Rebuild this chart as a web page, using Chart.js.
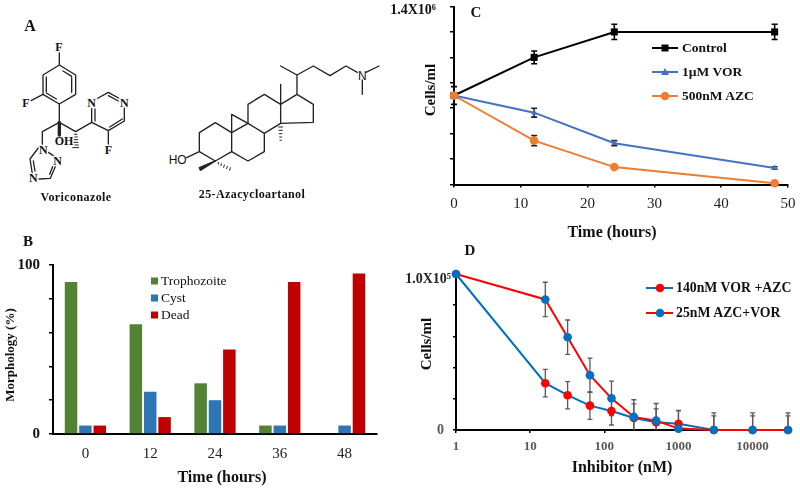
<!DOCTYPE html>
<html>
<head>
<meta charset="utf-8">
<style>
  html, body { margin: 0; padding: 0; background: #fff; }
  #page { position: relative; width: 800px; height: 489px; overflow: hidden; font-family: "Liberation Serif", serif; color: #111; }
  #page canvas { position: absolute; }
  #page svg { position: absolute; left: 0; top: 0; }
  .txt { position: absolute; white-space: nowrap; transform: translate(-50%, -50%); }
  .leg { position: absolute; white-space: nowrap; transform: translateY(-50%); }
  .atoms text { paint-order: stroke; stroke: #fff; stroke-width: 8px; }
</style>
<script src="https://cdn.jsdelivr.net/npm/chart.js@4/dist/chart.umd.min.js"></script>
</head>
<body>
<div id="page">
  <!-- panel A: chemical structures -->
  <svg width="800" height="489" fill="none" stroke="#222" stroke-linecap="round" stroke-linejoin="round">
    <g transform="translate(15,35) scale(0.3333)" stroke-width="4">
      <path d="M133 50L133 90L182 120L182 178L133 207L84 178L84 120L133 90M144 108L170 124M170 128L170 172M94 174L124 192M94 126L94 170"/>
      <path d="M48 197L84 178M133 207L133 262L82 290L82 328M133 262L182 290L230 262L230 220M240 258L240 222"/>
      <path d="M244 192L280 172L316 192M328 218L328 258L280 287L230 262M322 252L284 276M280 182L310 198M280 287L280 328"/>
      <path d="M72 336L45 372L52 416M55 378L60 408M72 432L106 430L122 392M104 418L114 392M124 368L100 352"/>
      <path d="M178 298L186 298M177 306L187 306M176 314L188 314M175 322L189 322M174 330L190 330M173 338L191 338" stroke-width="3"/>
      <g class="atoms" fill="#111" font-family="Liberation Serif" font-weight="bold" font-size="36" text-anchor="middle">
        <text x="132" y="47">F</text><text x="33" y="215">F</text><text x="147" y="329">OH</text>
        <text x="230" y="215">N</text><text x="328" y="215">N</text><text x="280" y="357">F</text>
        <text x="85" y="357">N</text><text x="128" y="390">N</text><text x="55" y="442">N</text>
      </g>
      <path d="M133 262L133 300" stroke-width="10"/>
    </g>
    <g transform="translate(160,55) scale(0.3333)" stroke-width="4">
      <path d="M362 33L411 60L460 33L510 62L558 33L592 52M618 52L657 33M607 75L607 118M411 60L411 118"/>
      <path d="M411 118L460 148L460 202L362 205L362 148L411 118M362 148L362 88"/>
      <path d="M362 148L313 118L264 148L264 205L313 235L362 205M264 205L215 233L215 290L264 318L313 290L313 235"/>
      <path d="M215 233L215 178L264 205M215 233L166 203L118 233L118 290L166 318L215 290M80 308L118 290"/>
      <path d="M166 318L118 338L121 346Z" fill="#222"/>
      <path d="M175 322L175 327M184 326L183 332M193 330L191 337M202 334L200 341M211 338L209 346M356 216L368 216M357 226L367 226M358 236L366 236M359 246L365 246M360 256L364 256" stroke-width="3"/>
      <g fill="#111" stroke="none" text-anchor="middle">
        <text x="607" y="74" font-family="Liberation Sans" font-size="36">N</text>
        <text x="53" y="328" font-family="Liberation Sans" font-size="36">HO</text>
      </g>
    </g>
  </svg>
  <canvas id="panelB"></canvas>
  <canvas id="panelC"></canvas>
  <canvas id="panelD"></canvas>
  <svg id="swatches" width="800" height="489"></svg>
</div>
<script>
// panel B
const morphTimes = ["0", "12", "24", "36", "48"];
const trophozoite = [90, 65, 30, 5, 0];
const cyst = [5, 25, 20, 5, 5];
const dead = [5, 10, 50, 90, 95];
const morphNames = ["Trophozoite", "Cyst", "Dead"];
const morphColors = ["#548235", "#2E75B6", "#C00000"];

// panel C
const hours = [0, 12, 24, 48];
const control = [700000, 1000000, 1200000, 1200000];
const controlErr = [70000, 50000, 60000, 60000];
const vor = [700000, 565000, 325000, 130000];
const vorErr = [0, 35000, 20000, 10000];
const azc = [700000, 345000, 137000, 10000];
const azcErr = [0, 40000, 0, 0];
const timeNames = ["Control", "1µM VOR", "500nM AZC"];
const timeColors = ["#000000", "#4472C4", "#ED7D31"];

// panel D
const doses = [1, 16, 32, 64, 125, 250, 500, 1000, 3000, 10000, 30000];
const vorAzc = [100000, 30000, 22300, 15600, 12200, 7700, 5000, 4000, 0, 0, 0];
const vorAzcErr = [0, 8800, 8700, 8800, 9000, 9000, 8600, 8500, 9000, 9000, 9000];
const azcVor = [100000, 83700, 59500, 35100, 20300, 8400, 6000, 900, 0, 0, 0];
const azcVorErr = [0, 11000, 11000, 11000, 11000, 11000, 11000, 11500, 11000, 11000, 11000];
const doseTicks = [1, 10, 100, 1000, 10000];
const doseNames = ["140nM VOR +AZC", "25nM AZC+VOR"];

const SERIF = "'Liberation Serif', serif";
const page = document.getElementById("page");

function addText(text, x, y, opts = {}) {
    const el = document.createElement("div");
    el.className = opts.cls || "txt";
    el.textContent = text;
    el.style.left = x + "px";
    el.style.top = y + "px";
    el.style.font = `${opts.weight || "bold"} ${opts.size || 16}px ${SERIF}`;
    if (opts.rotate) el.style.transform = "translate(-50%, -50%) rotate(-90deg)";
    if (opts.spacing) el.style.letterSpacing = opts.spacing + "px";
    page.appendChild(el);
}

// fixes the plot rectangle inside the canvas so the panels line up with the figure
function fixedLayout(id, box, plot) {
    const canvas = document.getElementById(id);
    canvas.style.left = box.x + "px";
    canvas.style.top = box.y + "px";
    canvas.width = box.w;
    canvas.height = box.h;
    return {
        canvas,
        layout: {
            autoPadding: false,
            padding: { left: 0, top: plot.top - box.y, right: box.x + box.w - plot.right, bottom: 0 },
        },
        fitX: (scale) => {
            scale.height = box.y + box.h - plot.bottom;
            scale.paddingLeft = scale.paddingRight = 0;
        },
        fitY: (scale) => {
            scale.width = plot.left - box.x;
            scale.paddingTop = scale.paddingBottom = 0;
        },
    };
}

const errorBars = {
    id: "errorBars",
    beforeDatasetsDraw(chart) {
        const { ctx, scales: { x, y } } = chart;
        chart.data.datasets.forEach((ds) => {
            if (!ds.errors) return;
            ctx.save();
            ctx.strokeStyle = ds.errorColor;
            ctx.lineWidth = ds.errorWidth;
            ds.data.forEach((pt, i) => {
                const err = ds.errors[i];
                if (!err) return;
                const px = x.getPixelForValue(pt.x);
                const hi = y.getPixelForValue(pt.y + err);
                const lo = y.getPixelForValue(Math.max(pt.y - err, 0));
                ctx.beginPath();
                ctx.moveTo(px, hi);
                ctx.lineTo(px, lo);
                ctx.moveTo(px - ds.errorCap, hi);
                ctx.lineTo(px + ds.errorCap, hi);
                if (pt.y - err > 0) {
                    ctx.moveTo(px - ds.errorCap, lo);
                    ctx.lineTo(px + ds.errorCap, lo);
                }
                ctx.stroke();
            });
            ctx.restore();
        });
    },
};

const axisLine = { display: true, color: "#000", width: 2 };
const tickLines = (len) => ({ display: true, drawOnChartArea: false, drawTicks: len > 0, tickLength: len, color: "#000", lineWidth: 1.5 });
const basePlugins = { legend: { display: false }, tooltip: { enabled: false } };

function lineDataset(label, xs, ys, errs, color, extra) {
    return {
        label,
        data: xs.map((x, i) => ({ x, y: ys[i] })),
        errors: errs,
        borderColor: color,
        backgroundColor: color,
        borderWidth: 2,
        pointRadius: 4.3,
        pointHoverRadius: 4.3,
        pointBorderWidth: 0,
        tension: 0,
        clip: false,
        ...extra,
    };
}

// --- panel B
const b = fixedLayout("panelB", { x: 0, y: 240, w: 400, h: 249 }, { left: 53, top: 265, right: 377, bottom: 434 });
new Chart(b.canvas, {
    type: "bar",
    data: {
        labels: morphTimes,
        datasets: [trophozoite, cyst, dead].map((values, i) => ({
            label: morphNames[i],
            data: values,
            backgroundColor: morphColors[i],
            categoryPercentage: 0.665,
            barPercentage: 0.87,
        })),
    },
    options: {
        responsive: false,
        animation: false,
        layout: b.layout,
        plugins: basePlugins,
        scales: {
            x: {
                afterFit: b.fitX,
                border: axisLine,
                grid: tickLines(0),
                ticks: { color: "#222", padding: 11, maxRotation: 0, font: { family: SERIF, size: 15 } },
            },
            y: {
                min: 0,
                max: 100,
                afterFit: b.fitY,
                border: axisLine,
                grid: tickLines(4),
                ticks: {
                    stepSize: 20,
                    padding: 9,
                    color: "#111",
                    font: { family: SERIF, size: 15, weight: "bold" },
                    callback: (v) => (v === 0 || v === 100 ? String(v) : ""),
                },
            },
        },
    },
});

// --- panel C
const c = fixedLayout("panelC", { x: 380, y: 0, w: 420, h: 240 }, { left: 454, top: 6.5, right: 788, bottom: 184.5 });
const capC = { errorCap: 3, errorWidth: 1.6 };
new Chart(c.canvas, {
    type: "line",
    data: {
        datasets: [
            lineDataset(timeNames[0], hours, control, controlErr, timeColors[0], { ...capC, errorColor: "#000", pointStyle: "rect", pointRadius: 5, order: 2 }),
            lineDataset(timeNames[1], hours, vor, vorErr, timeColors[1], { ...capC, errorColor: "#222", pointStyle: "triangle", pointRadius: 3.5, order: 1 }),
            lineDataset(timeNames[2], hours, azc, azcErr, timeColors[2], { ...capC, errorColor: "#222", order: 0 }),
        ],
    },
    options: {
        responsive: false,
        animation: false,
        layout: c.layout,
        plugins: basePlugins,
        scales: {
            x: {
                type: "linear",
                min: 0,
                max: 50,
                afterFit: c.fitX,
                border: axisLine,
                grid: tickLines(3),
                ticks: { stepSize: 10, color: "#222", padding: 8, maxRotation: 0, font: { family: SERIF, size: 15 } },
            },
            y: {
                min: 0,
                max: 1400000,
                afterFit: c.fitY,
                border: axisLine,
                grid: tickLines(4),
                ticks: {
                    stepSize: 200000,
                    padding: 14,
                    labelOffset: 4,
                    color: "#111",
                    font: { family: SERIF, size: 14, weight: "bold" },
                    callback: (v) => (v === 1400000 ? "1.4X10⁶" : ""),
                },
            },
        },
    },
    plugins: [errorBars],
});

// --- panel D
const d = fixedLayout("panelD", { x: 400, y: 250, w: 400, h: 239 }, { left: 456, top: 274, right: 788, bottom: 430 });
const capD = { errorColor: "#595959", errorCap: 2.5, errorWidth: 1.3 };
new Chart(d.canvas, {
    type: "line",
    data: {
        datasets: [
            lineDataset(doseNames[0], doses, vorAzc, vorAzcErr, "#0070C0", { ...capD, pointBackgroundColor: "#FF0000", order: 1 }),
            lineDataset(doseNames[1], doses, azcVor, azcVorErr, "#FF0000", { ...capD, pointBackgroundColor: "#0070C0", order: 0 }),
        ],
    },
    options: {
        responsive: false,
        animation: false,
        layout: d.layout,
        plugins: basePlugins,
        scales: {
            x: {
                type: "logarithmic",
                min: 1,
                max: 30000,
                afterFit: d.fitX,
                afterBuildTicks: (scale) => { scale.ticks = doseTicks.map((value) => ({ value })); },
                border: axisLine,
                grid: tickLines(3),
                ticks: {
                    autoSkip: false,
                    maxRotation: 0,
                    padding: 6,
                    color: "#595959",
                    font: { family: SERIF, size: 13, weight: "bold" },
                    callback: (v) => String(v),
                },
            },
            y: {
                min: 0,
                max: 100000,
                afterFit: d.fitY,
                border: axisLine,
                grid: tickLines(3),
                ticks: {
                    stepSize: 20000,
                    padding: 2,
                    color: (ctx) => (ctx.tick.value === 0 ? "#595959" : "#222"),
                    font: { family: SERIF, size: 14, weight: "bold", lineHeight: 0.7 },
                    callback: (v) => (v === 100000 ? ["", "1.0X10⁵"] : v === 0 ? "0  " : ""),
                },
            },
        },
    },
    plugins: [errorBars],
});

// --- legends, drawn next to the panels like in the figure
const swatches = document.getElementById("swatches");
function addShape(tag, attrs) {
    const el = document.createElementNS("http://www.w3.org/2000/svg", tag);
    Object.entries(attrs).forEach(([k, v]) => el.setAttribute(k, v));
    swatches.appendChild(el);
}

morphNames.forEach((name, i) => {
    const y = [281, 298, 315][i];
    addShape("rect", { x: 151, y: y - 3.5, width: 7, height: 7, fill: morphColors[i] });
    addText(name, 161, y, { cls: "leg", weight: "normal", size: 13.5 });
});

timeNames.forEach((name, i) => {
    const y = [48, 72, 96][i];
    addShape("line", { x1: 652, y1: y, x2: 678, y2: y, stroke: timeColors[i], "stroke-width": 2 });
    if (i === 0) addShape("rect", { x: 661.5, y: y - 3.5, width: 7, height: 7, fill: timeColors[i] });
    if (i === 1) addShape("path", { d: `M665 ${y - 4}L669 ${y + 3}L661 ${y + 3}Z`, fill: timeColors[i] });
    if (i === 2) addShape("circle", { cx: 665, cy: y, r: 4.3, fill: timeColors[i] });
    addText(name, 682, y, { cls: "leg", size: 13.5 });
});

doseNames.forEach((name, i) => {
    const y = [288, 313][i];
    addShape("line", { x1: 646, y1: y, x2: 673, y2: y, stroke: i === 0 ? "#0070C0" : "#FF0000", "stroke-width": 2 });
    addShape("circle", { cx: 660, cy: y, r: 4.3, fill: i === 0 ? "#FF0000" : "#0070C0" });
    addText(name, 676, y, { cls: "leg", size: 13.8 });
});

// --- axis titles, panel letters, compound names
addText("A", 30, 26, { size: 16 });
addText("B", 28, 241, { size: 15 });
addText("C", 476, 12, { size: 15 });
addText("D", 470, 250, { size: 15 });
addText("Voriconazole", 76, 197, { size: 12, spacing: 0.4 });
addText("25-Azacycloartanol", 252, 194, { size: 12, spacing: 0.4 });
addText("Morphology (%)", 10, 355, { size: 13, rotate: true });
addText("Time (hours)", 222, 477);
addText("Cells/ml", 430, 90, { size: 15, rotate: true });
addText("Time (hours)", 612, 232);
addText("Cells/ml", 426, 344, { size: 15, rotate: true });
addText("Inhibitor (nM)", 622, 467);
</script>
</body>
</html>
